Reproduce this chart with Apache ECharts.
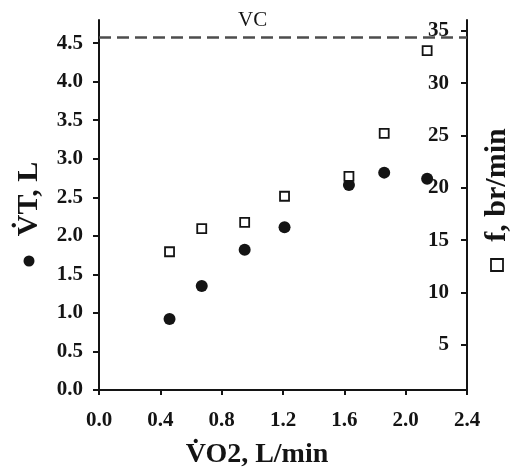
<!DOCTYPE html>
<html>
<head>
<meta charset="utf-8">
<script src="https://cdn.jsdelivr.net/npm/echarts@6/dist/echarts.min.js"></script>
<style>
html,body{margin:0;padding:0;background:#fff;}
#chart{width:514px;height:475px;}
</style>
</head>
<body>
<div id="chart"></div>
<script>
// ---- data ----
const vo2 = [0.46, 0.67, 0.95, 1.21, 1.63, 1.86, 2.14];        // L/min
const vt = [0.92, 1.35, 1.82, 2.11, 2.66, 2.82, 2.74];         // L
const freq = [13.9, 16.1, 16.7, 19.2, 21.1, 25.2, 33.1];       // br/min
const vcValue = 4.57;
const xTicks = [0, 0.4, 0.8, 1.2, 1.6, 2.0, 2.4];
const leftTicks = [0, 0.5, 1.0, 1.5, 2.0, 2.5, 3.0, 3.5, 4.0, 4.5];
const rightTicks = [5, 10, 15, 20, 25, 30, 35];
const xTitle = 'V\u0307O2, L/min';
const leftTitle = 'V\u0307T, L';
const rightTitle = 'f, br/min';

const ink = '#141414';
const serif = '"Liberation Serif", "DejaVu Serif", serif';

const chart = echarts.init(document.getElementById('chart'), null, {renderer: 'canvas'});
chart.setOption({
  backgroundColor: '#fff',
  animation: false,
  grid: {left: 99, right: 47, top: 20, bottom: 85, containLabel: false},
  xAxis: {
    type: 'value', min: 0, max: 2.4, interval: 0.4,
    axisLine: {show: true, lineStyle: {color: ink, width: 2}},
    axisTick: {show: true, length: 5, lineStyle: {color: ink, width: 2}},
    splitLine: {show: false},
    axisLabel: {color: ink, fontFamily: serif, fontWeight: 'bold', fontSize: 21, margin: 20,
      formatter: v => v.toFixed(1)}
  },
  yAxis: [
    {
      type: 'value', min: 0, max: 4.8, position: 'left',
      axisLine: {show: true, onZero: false, lineStyle: {color: ink, width: 2}},
      axisTick: {show: true, length: 6, customValues: leftTicks, lineStyle: {color: ink, width: 2}},
      splitLine: {show: false},
      axisLabel: {color: ink, fontFamily: serif, fontWeight: 'bold', fontSize: 21, margin: 16,
        customValues: leftTicks, formatter: v => v.toFixed(1)}
    },
    {
      type: 'value', min: 0.7, max: 36.03, position: 'right',
      axisLine: {show: true, onZero: false, lineStyle: {color: ink, width: 2}},
      axisTick: {show: true, inside: true, length: 6, customValues: rightTicks, lineStyle: {color: ink, width: 2}},
      splitLine: {show: false},
      axisLabel: {inside: true, color: ink, fontFamily: serif, fontWeight: 'bold', fontSize: 21, margin: 18,
        customValues: rightTicks, formatter: v => String(Math.round(v))}
    }
  ],
  series: [
    {
      name: 'VT', type: 'scatter', yAxisIndex: 0,
      data: vo2.map((x, i) => [x, vt[i]]),
      symbol: 'circle', symbolSize: 12,
      itemStyle: {color: ink, opacity: 1},
      z: 3,
      markLine: {
        silent: true, symbol: 'none', animation: false,
        data: [{yAxis: vcValue}],
        lineStyle: {color: '#4d4d4d', width: 2.5, type: [12, 6]},
        label: {show: true, formatter: 'VC', position: 'insideStartTop', distance: [139, 7],
          color: ink, fontFamily: serif, fontSize: 21}
      }
    },
    {
      name: 'f', type: 'scatter', yAxisIndex: 1,
      data: vo2.map((x, i) => [x, freq[i]]),
      symbol: 'rect', symbolSize: 9,
      itemStyle: {color: '#fff', borderColor: ink, borderWidth: 1.8, opacity: 1},
      z: 4
    }
  ],
  graphic: [
    {type: 'text', x: 257, y: 455, style: {text: xTitle, x: 0, y: 0, textAlign: 'center', textVerticalAlign: 'middle',
      fill: ink, font: 'bold 28px ' + serif}},
    {type: 'text', x: 29, y: 199, rotation: Math.PI / 2, style: {text: leftTitle, x: 0, y: 0, textAlign: 'center', textVerticalAlign: 'middle',
      fill: ink, font: 'bold 30px ' + serif}},
    {type: 'circle', shape: {cx: 29, cy: 261, r: 5.5}, style: {fill: ink}},
    {type: 'text', x: 497, y: 185, rotation: Math.PI / 2, style: {text: rightTitle, x: 0, y: 0, textAlign: 'center', textVerticalAlign: 'middle',
      fill: ink, font: 'bold 30px ' + serif}},
    {type: 'rect', shape: {x: 491, y: 259, width: 12, height: 12}, style: {fill: '#fff', stroke: ink, lineWidth: 1.8}}
  ]
});
</script>
</body>
</html>
